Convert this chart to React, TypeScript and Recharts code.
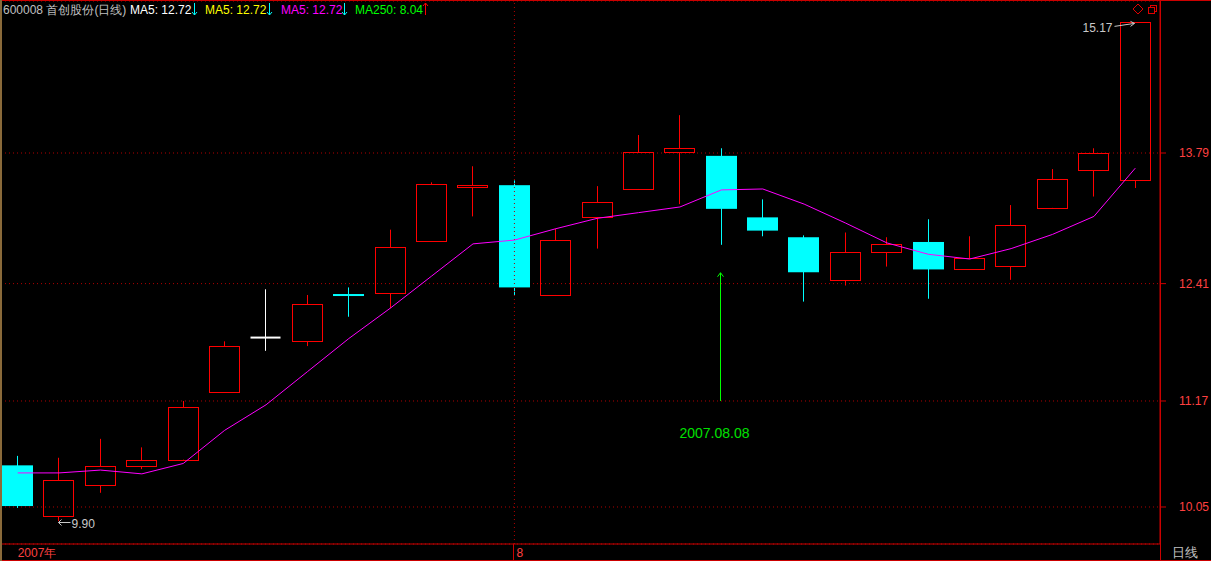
import React from 'react';
import { ComposedChart, Bar, Line, XAxis, YAxis, CartesianGrid, ReferenceLine } from 'recharts';

// 600008 daily candles, 2007-07-16 .. 2007-08-22
const dates = [
  '07.16', '07.17', '07.18', '07.19', '07.20', '07.23', '07.24', '07.25', '07.26', '07.27',
  '07.30', '07.31', '08.01', '08.02', '08.03', '08.06', '08.07', '08.08', '08.09', '08.10',
  '08.13', '08.14', '08.15', '08.16', '08.17', '08.20', '08.21', '08.22',
];
const opens = [
  10.49, 9.96, 10.28, 10.48, 10.55, 11.26, 11.84, 11.8, 12.3, 12.31,
  12.86, 13.43, 13.45, 12.29, 13.11, 13.41, 13.8, 13.76, 13.11, 12.9,
  12.45, 12.74, 12.85, 12.56, 12.6, 13.21, 13.61, 13.5,
];
const highs = [
  10.59, 10.57, 10.77, 10.68, 11.17, 11.8, 12.35, 12.29, 12.37, 12.98,
  13.48, 13.65, 13.5, 12.99, 13.44, 13.98, 14.19, 13.84, 13.3, 12.92,
  12.95, 12.9, 13.09, 12.91, 13.24, 13.62, 13.84, 15.17,
];
const lows = [
  10.04, 9.9, 10.2, 10.45, 10.55, 11.26, 11.7, 11.75, 12.06, 12.15,
  12.86, 13.12, 12.29, 12.29, 12.78, 13.41, 13.25, 12.82, 12.91, 12.22,
  12.39, 12.59, 12.25, 12.56, 12.45, 13.21, 13.33, 13.42,
];
const closes = [
  10.06, 10.34, 10.48, 10.55, 11.11, 11.75, 11.84, 12.19, 12.29, 12.8,
  13.46, 13.45, 12.37, 12.87, 13.27, 13.8, 13.84, 13.2, 12.97, 12.53,
  12.74, 12.83, 12.56, 12.68, 13.03, 13.52, 13.79, 15.17,
];
const ma5 = [
  10.41, 10.41, 10.44, 10.4, 10.51, 10.86, 11.13, 11.48, 11.83, 12.15,
  12.49, 12.83, 12.87, 12.99, 13.1, 13.16, 13.22, 13.4, 13.41, 13.25,
  13.05, 12.84, 12.72, 12.67, 12.78, 12.93, 13.12, 13.63,
];
const yTicks = [10.05, 11.17, 12.41, 13.79];
const yDomain = [9.659, 15.396];
const markDate = '08.08';
const markFrom = 11.17;
const markTo = 12.525;
const monthStart = '08.01';

const rows = dates.map((date, i) => ({
  date,
  open: opens[i],
  high: highs[i],
  low: lows[i],
  close: closes[i],
  ma5: ma5[i],
}));

const maxIdx = highs.indexOf(Math.max(...highs));
const minIdx = lows.indexOf(Math.min(...lows));

const FONT = '"Liberation Sans", Arial, sans-serif';
const RED = '#ff0000';
const CYAN = '#00ffff';
const GRID = '#b00000';
const FRAME = '#cc0000';
const LABEL = '#ff4040';

const Candle = (props: any) => {
  const { x, y, width, height, payload } = props;
  if (!payload) return null;
  const { open, close, high, low, date } = payload;
  const k = height / (high - low);
  const py = (v: number) => y + (high - v) * k;
  const cx = Math.floor(x + width / 2) + 0.5;
  const left = Math.round(x) + 0.5;
  const w = Math.round(width) - 1;
  const parts: React.ReactNode[] = [];

  if (close > open) {
    const top = Math.round(py(close)) + 0.5;
    const bot = Math.round(py(open)) + 0.5;
    parts.push(<line key="wu" x1={cx} x2={cx} y1={py(high)} y2={top} stroke={RED} />);
    parts.push(<line key="wd" x1={cx} x2={cx} y1={bot} y2={py(low)} stroke={RED} />);
    parts.push(<rect key="b" x={left} y={top} width={w} height={bot - top} fill="none" stroke={RED} />);
  } else if (close < open) {
    const top = py(open);
    const bot = Math.max(py(close), top + 2);
    parts.push(<line key="w" x1={cx} x2={cx} y1={py(high)} y2={py(low)} stroke={CYAN} />);
    parts.push(<rect key="b" x={Math.round(x)} y={top} width={Math.round(width)} height={bot - top} fill={CYAN} />);
  } else {
    parts.push(<line key="w" x1={cx} x2={cx} y1={py(high)} y2={py(low)} stroke="#ffffff" />);
    parts.push(<line key="b" x1={left} x2={left + w} y1={py(open)} y2={py(open)} stroke="#ffffff" strokeWidth={2} />);
  }

  if (date === dates[maxIdx]) {
    const hy = py(high);
    parts.push(
      <g key="hi">
        <text x={cx - 23} y={hy + 10} textAnchor="end" fill="#c8c8c8" fontSize={12} fontFamily={FONT}>
          {high.toFixed(2)}
        </text>
        <polyline points={`${cx - 21},${hy + 4} ${cx - 1},${hy + 1}`} fill="none" stroke="#c8c8c8" />
        <polyline points={`${cx - 5},${hy - 1} ${cx - 1},${hy + 1} ${cx - 5},${hy + 4}`} fill="none" stroke="#c8c8c8" />
      </g>
    );
  }
  if (date === dates[minIdx]) {
    const ly = Math.round(py(low)) + 1.5;
    parts.push(
      <g key="lo">
        <line x1={cx} x2={cx + 12} y1={ly} y2={ly} stroke="#c8c8c8" />
        <polyline points={`${cx + 3},${ly - 3} ${cx},${ly} ${cx + 3},${ly + 3}`} fill="none" stroke="#c8c8c8" />
        <text x={cx + 13} y={ly + 5} fill="#c8c8c8" fontSize={12} fontFamily={FONT}>
          {low.toFixed(2)}
        </text>
      </g>
    );
  }
  if (date === markDate) {
    const y1 = py(markFrom);
    const y2 = py(markTo);
    parts.push(
      <g key="mark">
        <line x1={cx - 1} x2={cx - 1} y1={y1} y2={y2} stroke="#00ff00" />
        <polyline points={`${cx - 4},${y2 + 4} ${cx - 1},${y2} ${cx + 2},${y2 + 4}`} fill="none" stroke="#00ff00" />
        <text x={cx - 7} y={y1 + 37} textAnchor="middle" fill="#00e000" fontSize={14} fontFamily={FONT}>
          2007.08.08
        </text>
      </g>
    );
  }
  return <g>{parts}</g>;
};

const XTick = (props: any) => {
  const { x, y, payload } = props;
  if (payload.value === dates[0]) {
    return (
      <text x={x} y={y + 13} fill={LABEL} fontSize={12} fontFamily={FONT}>
        2007年
      </text>
    );
  }
  if (payload.value === monthStart) {
    return (
      <g>
        <line x1={Math.floor(x) - 0.5} x2={Math.floor(x) - 0.5} y1={y} y2={y + 17} stroke={FRAME} />
        <text x={x + 2} y={y + 13} fill={LABEL} fontSize={12} fontFamily={FONT}>
          8
        </text>
      </g>
    );
  }
  return null;
};

const headerTexts: [string, string, number][] = [
  ['600008 首创股份(日线)', '#c0c0c0', 3],
  ['MA5: 12.72', '#ffffff', 130],
  ['MA5: 12.72', '#ffff00', 205],
  ['MA5: 12.72', '#ff00ff', 281],
  ['MA250: 8.04', '#00ff00', 355],
];
// [x, color, up?]
const headerArrows: [number, string, boolean][] = [
  [194.5, CYAN, false],
  [269.5, CYAN, false],
  [344.5, CYAN, false],
  [425.5, RED, true],
];

const Header = () => (
  <>
    {headerTexts.map(([t, c, l], i) => (
      <div
        key={i}
        style={{
          position: 'absolute',
          left: l,
          top: 2,
          color: c,
          fontSize: 12,
          lineHeight: '16px',
          fontFamily: FONT,
          whiteSpace: 'pre',
        }}
      >
        {t}
      </div>
    ))}
    <svg style={{ position: 'absolute', left: 0, top: 0 }} width={440} height={18}>
      {headerArrows.map(([ax, c, up], i) => {
        const tip = up ? 3 : 15;
        const d = up ? 3 : -3;
        return (
          <g key={i} stroke={c} fill="none">
            <line x1={ax} x2={ax} y1={3} y2={15} />
            <polyline points={`${ax - 2.5},${tip + d} ${ax},${tip} ${ax + 2.5},${tip + d}`} />
          </g>
        );
      })}
    </svg>
  </>
);

const App = () => {
  return (
    <div style={{ position: 'absolute', left: 0, top: 0, width: 1211, height: 561, background: '#000', overflow: 'hidden' }}>
      <ComposedChart width={1211} height={561} data={rows} margin={{ top: 1, right: 0, bottom: 0, left: -3 }}>
        <CartesianGrid vertical={false} stroke={GRID} strokeDasharray="1 3" />
        <XAxis
          dataKey="date"
          height={17}
          interval={0}
          padding={{ left: 0, right: 4 }}
          axisLine={{ stroke: FRAME }}
          tickLine={false}
          tickSize={0}
          tickMargin={0}
          tick={<XTick />}
        />
        <YAxis
          orientation="right"
          width={51}
          type="number"
          domain={yDomain}
          allowDataOverflow
          ticks={yTicks}
          tickFormatter={(v: number) => v.toFixed(2)}
          axisLine={{ stroke: FRAME }}
          tickLine={{ stroke: FRAME }}
          tickSize={6}
          tickMargin={13}
          tick={{ fill: LABEL, fontSize: 12, fontFamily: FONT }}
        />
        <ReferenceLine x={monthStart} stroke={GRID} strokeDasharray="1 3" />
        <Bar
          dataKey={(d: any) => [d.low, d.high]}
          barSize={31}
          shape={<Candle />}
          isAnimationActive={false}
        />
        <Line
          type="linear"
          dataKey="ma5"
          stroke="#ff00ff"
          strokeWidth={1}
          dot={false}
          activeDot={false}
          isAnimationActive={false}
        />
      </ComposedChart>
      <Header />
      <div style={{ position: 'absolute', left: 0, top: 0, width: 1211, height: 1, background: FRAME }} />
      <div style={{ position: 'absolute', left: 0, top: 560, width: 1211, height: 1, background: FRAME }} />
      <div style={{ position: 'absolute', left: 0, top: 0, width: 2, height: 561, background: '#8a6a3a' }} />
      <div style={{ position: 'absolute', left: 1160, top: 0, width: 1, height: 561, background: FRAME }} />
      <div
        style={{
          position: 'absolute',
          left: 1172,
          top: 545,
          color: '#c0c0c0',
          fontSize: 13,
          lineHeight: '15px',
          fontFamily: FONT,
        }}
      >
        日线
      </div>
      <svg style={{ position: 'absolute', left: 1130, top: 3 }} width={30} height={16}>
        <polygon points="8,1 13,6 8,11 3,6" fill="none" stroke="#e00000" />
        <rect x={20.5} y={2.5} width={6} height={6} fill="none" stroke="#e00000" />
        <rect x={18.5} y={4.5} width={6} height={6} fill="#000" stroke="#e00000" />
      </svg>
    </div>
  );
};

export default App;
